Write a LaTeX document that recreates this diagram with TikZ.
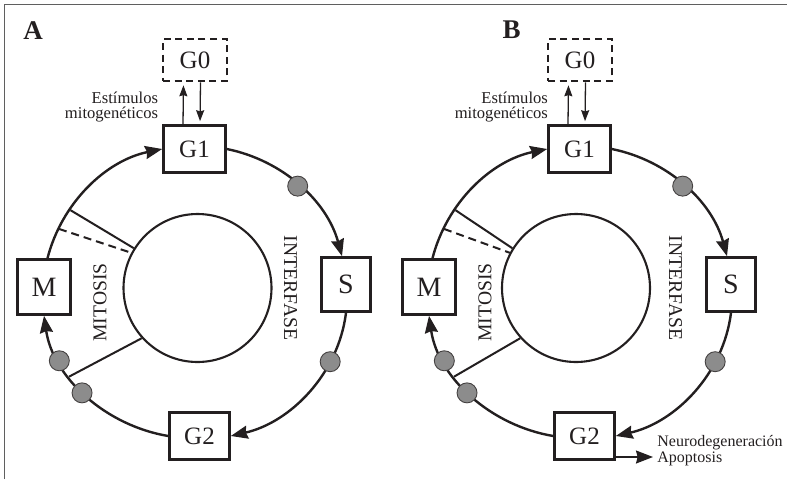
\documentclass[tikz,border=0pt]{standalone}
\usepackage{fontspec}
\setmainfont{Liberation Serif}
\usetikzlibrary{arrows.meta,calc}
\definecolor{ink}{RGB}{35,31,32}
\definecolor{dotgray}{RGB}{140,140,140}
\definecolor{framegray}{RGB}{95,95,95}
\tikzset{
  phase/.style={draw=ink, line width=1.3pt, fill=white, inner sep=0pt, text=ink,
    font=\fontsize{12.5}{14}\selectfont},
  bigphase/.style={phase, font=\fontsize{14}{15}\selectfont},
  quiescent/.style={phase, dash pattern=on 3.5pt off 2.3pt},
  cyc/.style={draw=ink, line width=1.2pt, looseness=0.93,
    -{Stealth[length=8.5pt,width=6.5pt,inset=0.8pt]}},
  thinarrow/.style={draw=ink, line width=0.65pt, shorten >=1.5pt,
    -{Stealth[length=5.5pt,width=4pt,inset=0.6pt]}},
  fatearrow/.style={draw=ink, line width=0.65pt,
    -{Stealth[length=8.5pt,width=6.5pt,inset=0.8pt]}},
  checkpoint/.style={circle, draw=ink!85, line width=0.45pt, fill=dotgray,
    minimum size=10pt, inner sep=0pt},
  nucleus/.style={circle, draw=ink, line width=1.05pt, minimum size=74pt, inner sep=0pt},
  spoke/.style={draw=ink, line width=1pt},
  spokedash/.style={spoke, dash pattern=on 4pt off 2.5pt},
  phaselabel/.style={font=\fontsize{9.8}{11}\selectfont, text=ink, inner sep=0pt},
  note/.style={font=\fontsize{8.3}{7.5}\selectfont, text=ink, inner sep=0pt},
  paneltag/.style={font=\fontsize{13.5}{15}\selectfont\bfseries, text=ink, inner sep=0pt}
}
\begin{document}
\begin{tikzpicture}[x=0.5pt,y=0.5pt]
\useasboundingbox (0,0) rectangle (787,479);
% outer frame (top and left edges)
\draw[framegray, line width=0.8pt] (4.5,0) -- (4.5,474.5) -- (787,474.5);

\node[paneltag] (tagA) at (33,448.5) {A};
\node[paneltag] (tagB) at (511.5,449) {B};

\foreach \p/\dx/\nx/\tx in {A/0/197.5/158.5, B/385/576/548.3} {
  % centre of the cycle ring
  \coordinate (C\p) at (195+\dx,184.5);
  % nucleus and the mitosis / interphase dividers
  \node[nucleus] (N\p) at (\nx,191) {};
  \coordinate (r1\p) at ($(C\p)+(145:152 and 147)$);
  \coordinate (r2\p) at ($(C\p)+(153.5:152 and 147)$);
  \coordinate (r3\p) at ($(C\p)+(214:152 and 147)$);
  \draw[spoke] (r1\p) -- (N\p.148);
  \draw[spokedash] (r2\p) -- (N\p.152);
  \draw[spoke] (r3\p) -- (N\p.222);
  \node[phaselabel, rotate=90] (mit\p) at (100+\dx,176.5) {MITOSIS};
  \node[phaselabel, rotate=-90] (int\p) at (290.5+\dx,191) {INTERFASE};

  % phases
  \node[quiescent, minimum width=32pt, minimum height=21pt] (G0\p) at (195+\dx,419) {G0};
  \node[phase, minimum width=31pt, minimum height=23.5pt] (G1\p) at (194.5+\dx,330) {G1};
  \node[bigphase, minimum width=24.5pt, minimum height=27pt] (S\p) at (346+\dx,194.5) {S};
  \node[phase, minimum width=30pt, minimum height=23.5pt] (G2\p) at (199.5+\dx,43) {G2};
  \node[bigphase, minimum width=26.5pt, minimum height=27.5pt] (M\p) at (44+\dx,192) {M};

  % G0 <-> G1 exchange
  \draw[thinarrow] ($(G1\p.north)+(-11.5,0)$) -- ($(G0\p.south)+(-11.5,0)$);
  \draw[thinarrow] ($(G0\p.south)+(5.5,0)$) -- ($(G1\p.north)+(5.5,0)$);
  \node[note, anchor=east, align=right] (stim\p) at (\tx,371.5) {Estímulos\\mitogenéticos};

  % the cycle
  \draw[cyc] ($(M\p.north)+(3.5,0)$) to[out=75.5,in=191.7] (G1\p.west);
  \draw[cyc] (G1\p.east) to[out=-11.4,in=105.3] ($(S\p.north)+(-4,0)$);
  \draw[cyc] (S\p.south) to[out=262.9,in=12.9] (G2\p.east);
  \draw[cyc] (G2\p.west) to[out=170.5,in=278.3] (M\p.south);

  % checkpoints
  \node[checkpoint] (k1\p) at ($(C\p)+(47.5:152 and 147)$) {};
  \node[checkpoint] (k2\p) at ($(C\p)+(-27.2:152 and 147)$) {};
  \node[checkpoint] (k3\p) at ($(C\p)+(206.8:152 and 147)$) {};
  \node[checkpoint] (k4\p) at ($(C\p)+(222:152 and 147)$) {};
}

% exit from G2 towards cell death
\node[note, font=\fontsize{8}{8}\selectfont, anchor=west, align=left] (fate) at (657,28)
  {Neurodegeneración\\Apoptosis};
\draw[fatearrow] ($(G2B.east)+(0,-21)$) -- ($(fate.west)+(-4,-6)$);
\end{tikzpicture}
\end{document}
